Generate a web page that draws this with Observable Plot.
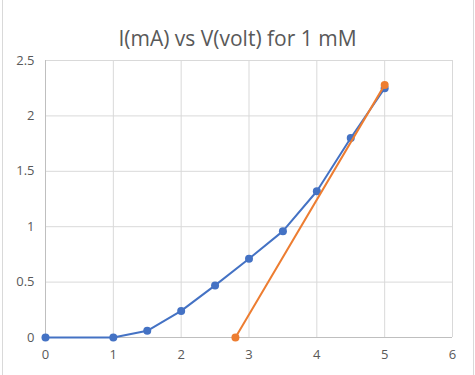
<!DOCTYPE html>
<html>
<head>
<meta charset="utf-8">
<script src="https://cdn.jsdelivr.net/npm/d3@7"></script>
<script src="https://cdn.jsdelivr.net/npm/@observablehq/plot@0.6"></script>
<style>
  html, body { margin: 0; padding: 0; background: #fff; }
  #wrap { position: relative; width: 475px; height: 375px; overflow: hidden; font-family: "Open Sans", sans-serif; }
  #title { position: absolute; left: 0; top: 24px; width: 475px; text-align: center; font-size: 21px; line-height: 28px; color: #595959; }
  #chart { position: absolute; left: 0; top: 50px; }
  .edge { position: absolute; background: #d9d9d9; }
</style>
</head>
<body>
<div id="wrap">
  <div class="edge" style="left:2px;top:0;width:1px;height:375px"></div>
  <div class="edge" style="left:473px;top:0;width:1px;height:375px"></div>
  <div id="title">I(mA) vs V(volt) for 1 mM</div>
  <div id="chart"></div>
</div>
<script>
// Series 1 (blue): measured I vs V
const voltage = [0, 1, 1.5, 2, 2.5, 3, 3.5, 4, 4.5, 5];
const current = [0, 0, 0.06, 0.24, 0.47, 0.71, 0.96, 1.32, 1.80, 2.25];
// Series 2 (orange): tangent line
const tangentV = [2.8, 5];
const tangentI = [0, 2.28];
const xTicks = [0, 1, 2, 3, 4, 5, 6];
const yTicks = [0, 0.5, 1, 1.5, 2, 2.5];

const s1 = voltage.map((v, i) => ({v, i: current[i]}));
const s2 = tangentV.map((v, i) => ({v, i: tangentI[i]}));

const blue = "#4472c4", orange = "#ed7d31";
const fmt = d => String(d);

const plot = Plot.plot({
  width: 475,
  height: 325,
  marginLeft: 45,
  marginRight: 23,
  marginTop: 10,
  marginBottom: 38,
  style: {fontFamily: "Open Sans, sans-serif", fontSize: "13px", color: "#595959", background: "transparent"},
  x: {domain: [0, 6], label: null},
  y: {domain: [0, 2.5], label: null},
  marks: [
    Plot.gridX(xTicks, {stroke: "#d9d9d9", strokeOpacity: 1}),
    Plot.gridY(yTicks, {stroke: "#d9d9d9", strokeOpacity: 1}),
    Plot.ruleY([0], {stroke: "#bfbfbf"}),
    Plot.ruleX([0], {stroke: "#bfbfbf"}),
    Plot.axisX(xTicks, {tickSize: 0, tickPadding: 12, tickFormat: fmt, fill: "#595959", fontSize: 13}),
    Plot.axisY(yTicks, {tickSize: 0, tickPadding: 11, tickFormat: fmt, fill: "#595959", fontSize: 13}),
    Plot.line(s1, {x: "v", y: "i", stroke: blue, strokeWidth: 2}),
    Plot.dot(s1, {x: "v", y: "i", fill: blue, r: 4}),
    Plot.line(s2, {x: "v", y: "i", stroke: orange, strokeWidth: 2}),
    Plot.dot(s2, {x: "v", y: "i", fill: orange, r: 4})
  ]
});
document.getElementById("chart").appendChild(plot);
</script>
</body>
</html>
